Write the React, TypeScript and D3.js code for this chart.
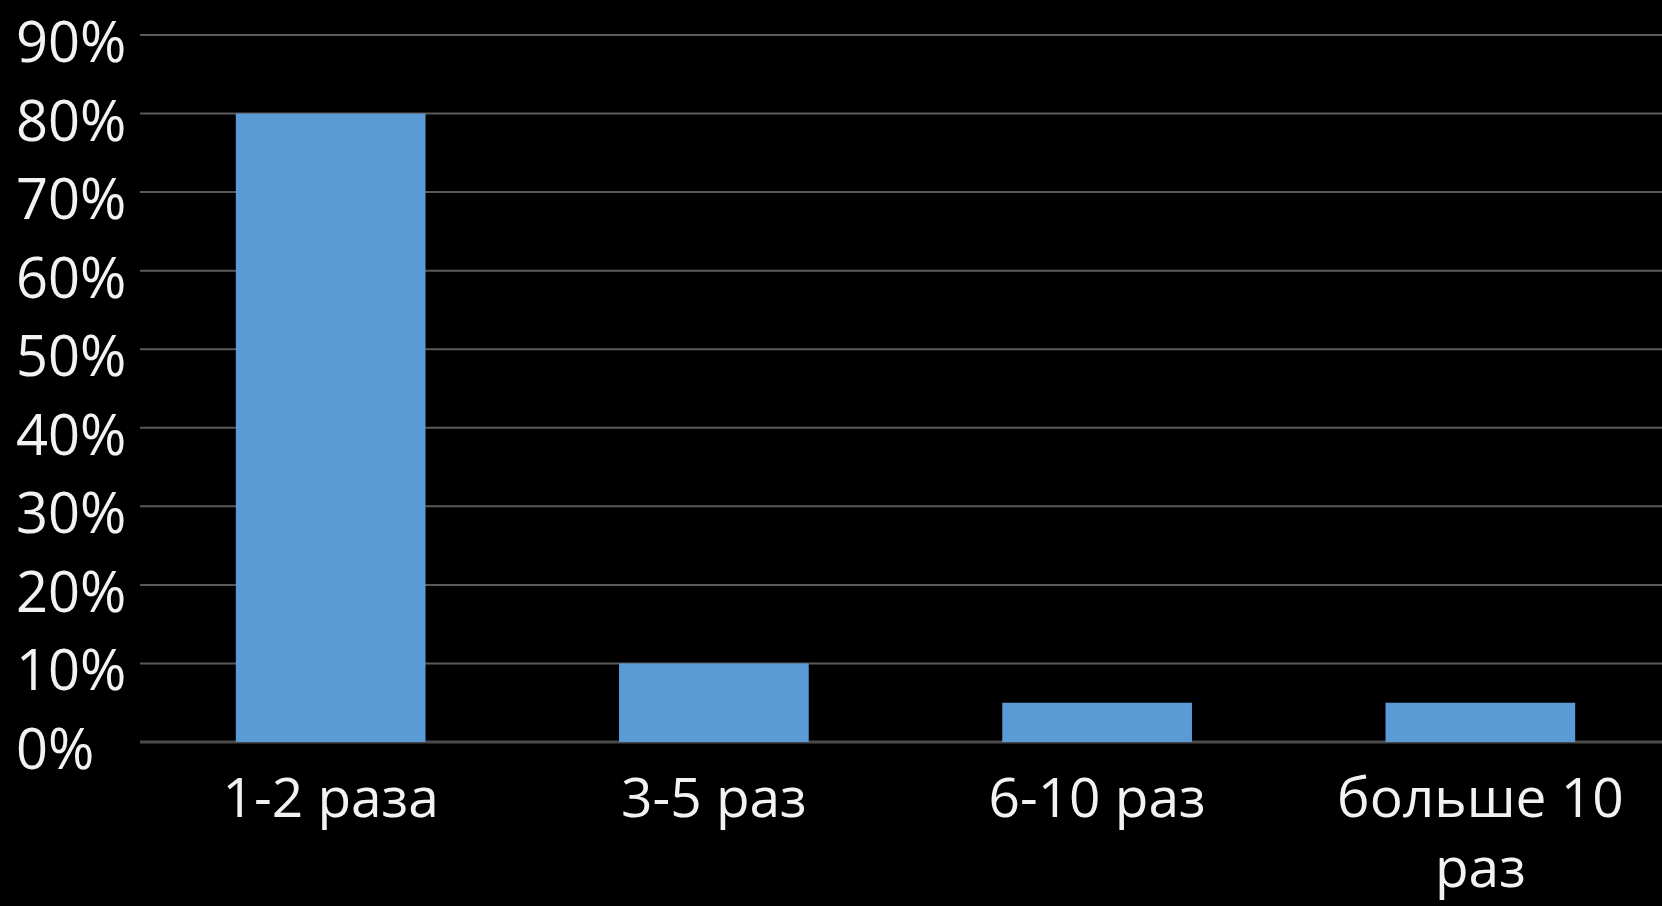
import { useEffect, useRef } from "react";
import * as d3 from "d3";

const categories = ["1-2 раза", "3-5 раз", "6-10 раз", "больше 10 раз"];
const values = [0.8, 0.1, 0.05, 0.05];
const yTicks = [0, 0.1, 0.2, 0.3, 0.4, 0.5, 0.6, 0.7, 0.8, 0.9];

const WIDTH = 1662;
const HEIGHT = 906;

export default function App() {
  const ref = useRef<SVGSVGElement>(null);

  useEffect(() => {
    if (!ref.current) return;
    const margin = { top: 35, right: -9, bottom: 164, left: 140 };
    const innerWidth = WIDTH - margin.left - margin.right;
    const innerHeight = HEIGHT - margin.top - margin.bottom;
    const font = "'Open Sans', 'Noto Sans', sans-serif";

    const root = d3.select(ref.current);
    root.selectAll("*").remove();
    root.append("rect").attr("width", WIDTH).attr("height", HEIGHT).attr("fill", "#000");

    const svg = root.append("g").attr("transform", `translate(${margin.left},${margin.top})`);

    const x = d3
      .scaleBand()
      .domain(categories)
      .range([0, innerWidth])
      .paddingInner(0.505)
      .paddingOuter(0.25);

    const y = d3.scaleLinear().domain([0, 0.9]).range([innerHeight, 0]);

    // gridlines
    svg
      .selectAll("line.grid")
      .data(yTicks)
      .enter()
      .append("line")
      .attr("class", "grid")
      .attr("x1", 0)
      .attr("x2", WIDTH - margin.left)
      .attr("y1", (d) => y(d))
      .attr("y2", (d) => y(d))
      .attr("stroke", (d) => (d === 0 ? "#4a4a4a" : "#5a5a5a"))
      .attr("stroke-width", (d) => (d === 0 ? 3 : 2));

    // y labels (left aligned like the source)
    svg
      .selectAll("text.ylab")
      .data(yTicks)
      .enter()
      .append("text")
      .attr("class", "ylab")
      .attr("x", 16 - margin.left)
      .attr("y", (d) => y(d) + 27)
      .attr("fill", "#f2f2f2")
      .style("font-family", font)
      .style("font-size", "56px")
      .text((d) => d3.format(".0%")(d));

    // bars
    svg
      .selectAll("rect.bar")
      .data(values)
      .enter()
      .append("rect")
      .attr("class", "bar")
      .attr("x", (_, i) => x(categories[i]) ?? 0)
      .attr("y", (d) => y(d))
      .attr("width", x.bandwidth())
      .attr("height", (d) => innerHeight - y(d))
      .attr("fill", "#5b9bd5");

    // x labels with wrapping
    const labels = svg
      .selectAll("text.xlab")
      .data(categories)
      .enter()
      .append("text")
      .attr("class", "xlab")
      .attr("x", (d) => (x(d) ?? 0) + x.bandwidth() / 2)
      .attr("y", innerHeight + 75)
      .attr("fill", "#f2f2f2")
      .attr("text-anchor", "middle")
      .style("font-family", font)
      .style("font-size", "55px");

    labels.each(function (d) {
      const text = d3.select(this);
      const words = d.split(" ");
      const maxW = 330;
      let line: string[] = [];
      const cx = text.attr("x");
      let tspan = text.append("tspan").attr("x", cx).attr("dy", 0);
      for (const w of words) {
        line.push(w);
        tspan.text(line.join(" "));
        const node = tspan.node() as SVGTSpanElement;
        if (node.getComputedTextLength() > maxW && line.length > 1) {
          line.pop();
          tspan.text(line.join(" "));
          line = [w];
          tspan = text.append("tspan").attr("x", cx).attr("dy", 70).text(w);
        }
      }
    });
  }, []);

  return (
    <div style={{ position: "fixed", left: 0, top: 0, width: WIDTH, height: HEIGHT, background: "#000" }}>
      <svg ref={ref} width={WIDTH} height={HEIGHT} style={{ display: "block" }} />
    </div>
  );
}
